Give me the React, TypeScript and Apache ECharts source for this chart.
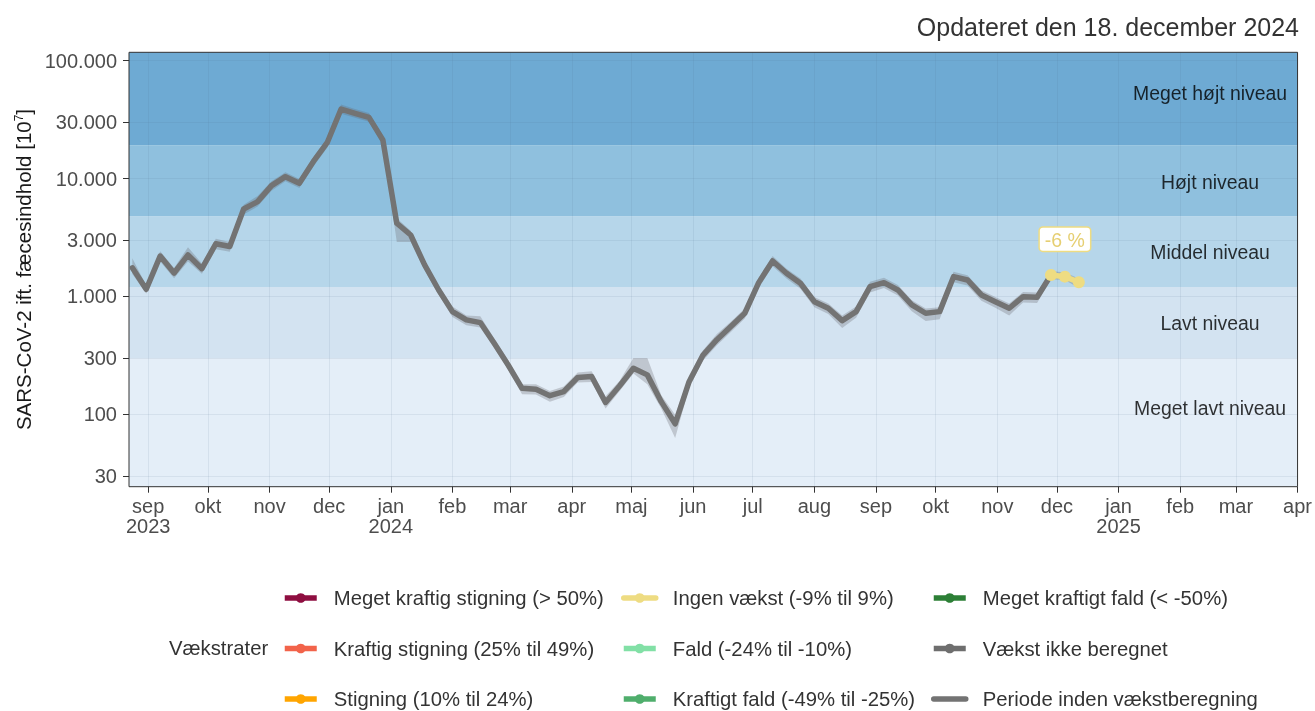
import { useEffect, useRef } from 'react';
import * as echarts from 'echarts';

// ---------- data ----------
const weekDates = [
  '2023-08-24','2023-08-31','2023-09-07','2023-09-14','2023-09-21','2023-09-28','2023-10-05','2023-10-12','2023-10-19','2023-10-26',
  '2023-11-02','2023-11-09','2023-11-16','2023-11-23','2023-11-30','2023-12-07','2023-12-14','2023-12-21','2023-12-28',
  '2024-01-04','2024-01-11','2024-01-18','2024-01-25','2024-02-01','2024-02-08','2024-02-15','2024-02-22','2024-02-29',
  '2024-03-07','2024-03-14','2024-03-21','2024-03-28','2024-04-04','2024-04-11','2024-04-18','2024-04-25',
  '2024-05-02','2024-05-09','2024-05-16','2024-05-23','2024-05-30','2024-06-06','2024-06-13','2024-06-20','2024-06-27',
  '2024-07-04','2024-07-11','2024-07-18','2024-07-25','2024-08-01','2024-08-08','2024-08-15','2024-08-22','2024-08-29',
  '2024-09-05','2024-09-12','2024-09-19','2024-09-26','2024-10-03','2024-10-10','2024-10-17','2024-10-24','2024-10-31',
  '2024-11-07','2024-11-14','2024-11-21','2024-11-28','2024-12-05','2024-12-12',
];
const measured = [
  1750, 1150, 2200, 1580, 2250, 1720, 2800, 2650, 5520, 6370,
  8710, 10380, 9120, 13900, 20150, 38900, 35800, 33100, 21250,
  4180, 3320, 1850, 1140, 743, 632, 600, 400, 262,
  166, 163, 144, 156, 205, 209, 126, 174,
  246, 216, 128, 83, 189, 318, 430, 555, 720,
  1310, 2000, 1574, 1294, 903, 794, 624, 743, 1211,
  1309, 1135, 847, 720, 743, 1472, 1380, 1030, 903,
  794, 996, 985, 1521, 1472, 1318,
];
const lowerBound = [
  1550, 1060, 1980, 1430, 1980, 1560, 2520, 2400, 4950, 5800,
  7900, 9500, 8300, 12600, 18300, 35500, 32800, 30300, 19400,
  2900, 2900, 1680, 1040, 670, 570, 545, 365, 240,
  148, 147, 128, 140, 186, 188, 112, 157,
  222, 180, 112, 63, 168, 286, 385, 500, 650,
  1180, 1800, 1420, 1160, 810, 710, 540, 660, 1080,
  1180, 1020, 750, 620, 640, 1320, 1240, 920, 800,
  690, 890, 880, 1400, 1380, 1180,
];
const upperBound = [
  2110, 1240, 2420, 1740, 2620, 1900, 3080, 2900, 6000, 7100,
  9500, 11300, 9900, 15200, 22000, 42500, 39000, 36000, 23200,
  4600, 3600, 2020, 1240, 820, 690, 680, 440, 288,
  180, 180, 158, 172, 226, 232, 142, 192,
  300, 300, 145, 99, 212, 350, 480, 610, 790,
  1440, 2200, 1720, 1420, 990, 870, 690, 820, 1330,
  1440, 1250, 930, 790, 810, 1620, 1510, 1130, 990,
  870, 1090, 1080, 1640, 1600, 1420,
];
const growthStartIndex = 66;
const growthLabelIndex = 67;
const growthLabel = '-6 %';

const yTickValues = [30, 100, 300, 1000, 3000, 10000, 30000, 100000];
const yTickLabels = ['30', '100', '300', '1.000', '3.000', '10.000', '30.000', '100.000'];
const yRange = [24.3, 117900];

const levelEdges = [300, 1200, 4800, 19200];
const levelNames = ['Meget lavt niveau', 'Lavt niveau', 'Middel niveau', 'Højt niveau', 'Meget højt niveau'];
const levelLabelValues = [113, 596, 2385, 9360, 53200];
const levelLabelDate = '2025-02-16';

const monthTicks = [
  '2023-09-01','2023-10-01','2023-11-01','2023-12-01','2024-01-01','2024-02-01','2024-03-01','2024-04-01','2024-05-01','2024-06-01',
  '2024-07-01','2024-08-01','2024-09-01','2024-10-01','2024-11-01','2024-12-01','2025-01-01','2025-02-01','2025-03-01','2025-04-01',
];
const monthLabels = [
  'sep\n2023','okt','nov','dec','jan\n2024','feb','mar','apr','maj','jun',
  'jul','aug','sep','okt','nov','dec','jan\n2025','feb','mar','apr',
];
const xRange = ['2023-08-22T08:00:00Z', '2025-04-01T00:00:00Z'];

const legendColumns = [
  ['Meget kraftig stigning (> 50%)', 'Kraftig stigning (25% til 49%)', 'Stigning (10% til 24%)'],
  ['Ingen vækst (-9% til 9%)', 'Fald (-24% til -10%)', 'Kraftigt fald (-49% til -25%)'],
  ['Meget kraftigt fald (< -50%)', 'Vækst ikke beregnet', 'Periode inden vækstberegning'],
];
const legendTitle = 'Vækstrater';
const titleText = 'Opdateret den 18. december 2024';
const yAxisTitle = 'SARS-CoV-2 ift. fæcesindhold [10{sup|7}]';

// ---------- styles ----------
const levelColors = ['#e4eef8', '#d3e3f1', '#b6d6ea', '#8fc0de', '#6eaad3'];
const legendColors = [
  ['#8e0e40', '#f2634a', '#ffa500'],
  ['#eedc82', '#82e0a6', '#4fae6c'],
  ['#2c7f36', '#6e6e6e', '#6e6e6e'],
];
const legendLefts = [282, 621, 931];
const greyLine = '#737373';
const yellow = '#eedc82';
const ribbonFill = 'rgba(105,105,112,0.3)';
const gridColor = 'rgba(80,110,140,0.10)';

const ts = (d: string) => Date.parse(d.length === 10 ? d + 'T00:00:00Z' : d);
const lg = (v: number) => Math.log10(v);

export default function App() {
  const ref = useRef<HTMLDivElement>(null);

  useEffect(() => {
    if (!ref.current) return;
    const chart = echarts.init(ref.current, undefined, { renderer: 'svg' });

    const xs = weekDates.map(ts);
    const yMin = lg(yRange[0]);
    const yMax = lg(yRange[1]);
    const bandBounds = [yRange[0], ...levelEdges, yRange[1]];
    const font = { fontFamily: 'Liberation Sans, Arial, sans-serif' };

    const dummySeries: any[] = [];
    legendColumns.forEach((col, ci) => {
      col.forEach((name, ri) => {
        if (name === 'Ingen vækst (-9% til 9%)' || name === 'Periode inden vækstberegning') return;
        dummySeries.push({
          type: 'line',
          name,
          data: [],
          symbol: 'circle',
          color: legendColors[ci][ri],
          lineStyle: { width: 5, color: legendColors[ci][ri] },
          itemStyle: { color: legendColors[ci][ri] },
        });
      });
    });

    const option: any = {
      animation: false,
      textStyle: font,
      grid: {
        left: 129,
        right: 14,
        top: 52.3,
        bottom: 711 - 486.7,
        show: true,
        z: 3,
        borderColor: '#333333',
        borderWidth: 1,
        backgroundColor: 'transparent',
      },
      xAxis: {
        type: 'value',
        min: ts(xRange[0]),
        max: ts(xRange[1]),
        z: 1.5,
        axisLine: { show: false },
        axisTick: {
          show: true,
          customValues: monthTicks.map(ts),
          length: 6,
          lineStyle: { color: '#333333', width: 1 },
        },
        axisLabel: {
          customValues: monthTicks.map(ts),
          formatter: (v: number) => {
            const i = monthTicks.findIndex((m) => Math.abs(ts(m) - v) < 1000);
            return i >= 0 ? monthLabels[i] : '';
          },
          color: '#4d4d4d',
          fontSize: 20,
          lineHeight: 20,
          margin: 9,
          ...font,
        },
        splitLine: { show: true, lineStyle: { color: gridColor, width: 1 } },
      },
      yAxis: {
        type: 'value',
        min: yMin,
        max: yMax,
        z: 1.5,
        axisLine: { show: false },
        axisTick: {
          show: true,
          customValues: yTickValues.map(lg),
          length: 6,
          lineStyle: { color: '#333333', width: 1 },
        },
        axisLabel: {
          customValues: yTickValues.map(lg),
          formatter: (v: number) => {
            const i = yTickValues.findIndex((tv) => Math.abs(lg(tv) - v) < 1e-6);
            return i >= 0 ? yTickLabels[i] : '';
          },
          color: '#4d4d4d',
          fontSize: 20,
          margin: 12,
          ...font,
        },
        splitLine: { show: true, lineStyle: { color: gridColor, width: 1 } },
        name: yAxisTitle,
        nameLocation: 'middle',
        nameRotate: 90,
        nameGap: 95,
        nameTextStyle: {
          color: '#1a1a1a',
          fontSize: 20.5,
          ...font,
          rich: {
            sup: { fontSize: 12, verticalAlign: 'top', lineHeight: 12, color: '#1a1a1a', ...font },
          },
        },
      },
      legend: legendColumns.map((col, ci) => ({
        orient: 'vertical',
        left: legendLefts[ci],
        top: 588,
        height: 150,
        padding: 0,
        itemWidth: 32,
        itemHeight: 12,
        itemGap: 30.5,
        selectedMode: false,
        lineStyle: { width: 5.5 },
        textStyle: { fontSize: 20.3, color: '#333333', lineHeight: 20, padding: [0, 0, 0, 12], ...font },
        data: col.map((name) =>
          name === 'Periode inden vækstberegning' ? { name, itemStyle: { opacity: 0 } } : { name }
        ),
      })),
      graphic: [
        {
          type: 'text',
          right: 16,
          top: 14,
          style: { text: titleText, fontSize: 25, fill: '#333333', ...font },
        },
        {
          type: 'text',
          left: 169,
          top: 638,
          style: { text: legendTitle, fontSize: 20.3, fill: '#333333', ...font },
        },
      ],
      series: [
        {
          type: 'line',
          name: 'levels-bg',
          z: 1,
          silent: true,
          symbol: 'none',
          data: [],
          markArea: {
            silent: true,
            label: { show: false },
            data: levelColors.map((c, i) => [
              { yAxis: lg(bandBounds[i]), itemStyle: { color: c, opacity: 1 } },
              { yAxis: lg(bandBounds[i + 1]) },
            ]),
          },
        },
        {
          type: 'custom',
          name: 'ci',
          z: 2,
          silent: true,
          clip: true,
          data: xs.map((x, i) => [x, lg(lowerBound[i]), lg(upperBound[i])]),
          encode: { x: 0, y: [1, 2] },
          renderItem: (params: any, api: any) => {
            if (params.dataIndex !== 0) return null;
            const upper = xs.map((x, i) => api.coord([x, lg(upperBound[i])]));
            const lower = xs.map((x, i) => api.coord([x, lg(lowerBound[i])])).reverse();
            return {
              type: 'polygon',
              shape: { points: upper.concat(lower) },
              style: { fill: ribbonFill },
            };
          },
        },
        {
          type: 'line',
          name: 'Periode inden vækstberegning',
          z: 3,
          symbol: 'none',
          color: greyLine,
          data: xs.slice(0, growthStartIndex + 1).map((x, i) => [x, lg(measured[i])]),
          lineStyle: { width: 5.5, color: greyLine, join: 'round', cap: 'round' },
          itemStyle: { color: greyLine },
        },
        {
          type: 'line',
          name: 'Ingen vækst (-9% til 9%)',
          z: 4,
          symbol: 'circle',
          symbolSize: 12,
          showSymbol: true,
          color: yellow,
          lineStyle: { width: 5.5, color: yellow, join: 'round', cap: 'round' },
          itemStyle: { color: yellow },
          data: xs.slice(growthStartIndex).map((x, k) => {
            const i = growthStartIndex + k;
            const item: any = { value: [x, lg(measured[i])] };
            if (i === growthLabelIndex) {
              item.label = {
                show: true,
                position: 'top',
                distance: 20,
                formatter: growthLabel,
                color: '#e6cf72',
                fontSize: 19.5,
                backgroundColor: '#ffffff',
                borderColor: '#eedc82',
                borderWidth: 1.5,
                borderRadius: 3,
                padding: [2, 5, 1, 5],
                ...font,
              };
            }
            return item;
          }),
        },
        ...dummySeries,
        {
          type: 'scatter',
          name: 'levels',
          z: 5,
          silent: true,
          symbolSize: 0,
          data: levelLabelValues.map((v, i) => ({ name: levelNames[i], value: [ts(levelLabelDate), lg(v)] })),
          label: {
            show: true,
            position: 'inside',
            formatter: (p: any) => p.name,
            color: '#000000',
            fontSize: 19.4,
            ...font,
          },
        },
      ],
    };

    chart.setOption(option);
    return () => chart.dispose();
  }, []);

  return <div ref={ref} style={{ position: 'fixed', left: 0, top: 0, width: 1315, height: 711 }} />;
}
